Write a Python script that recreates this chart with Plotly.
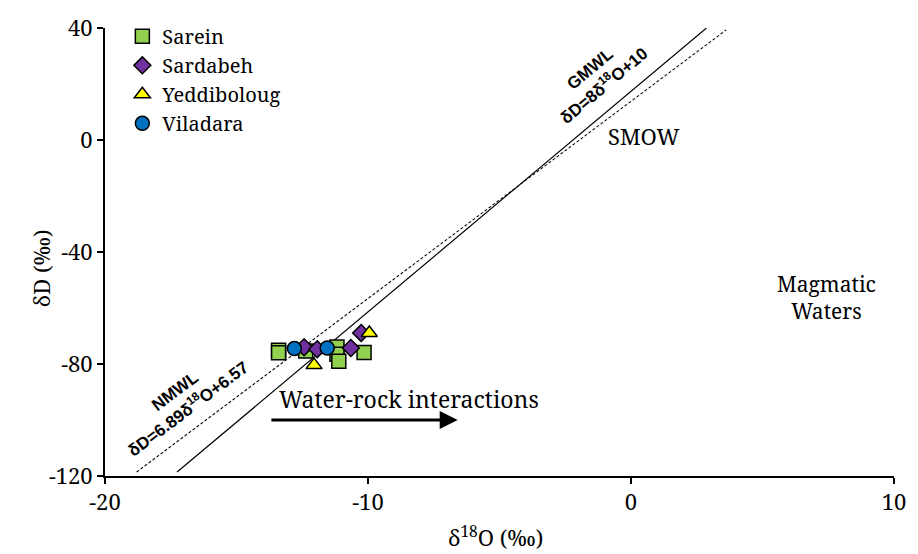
import plotly.graph_objects as go

# ---- data ----
sarein_x = [-13.40, -13.40, -12.37, -11.18, -11.18, -11.11, -10.15]
sarein_y = [-75.1, -76.0, -75.4, -73.9, -76.5, -79.0, -75.9]
sardabeh_x = [-12.43, -11.93, -10.65, -10.26]
sardabeh_y = [-74.0, -74.7, -74.3, -68.9]
yeddi_x = [-12.05, -9.95]
yeddi_y = [-80.4, -68.9]
vila_x = [-12.80, -11.55]
vila_y = [-74.5, -74.3]

gmwl_x = [-17.26, 2.87]
gmwl_y = [-118.6, 40.0]
nmwl_x = [-18.80, 3.62]
nmwl_y = [-118.6, 39.3]

arrow_x = [-13.73, -6.59]
arrow_y = [-100.0, -100.0]

x_ticks = [-20, -10, 0, 10]
x_ticktext = ["-20", "-10", "0", "10"]
y_ticks = [-120, -80, -40, 0, 40]
y_ticktext = ["-120", "-80", "-40", "0", "40"]

SERIF = "Noto Serif, DejaVu Serif"
SANS = "Liberation Sans, Arial, sans-serif"

fig = go.Figure()

fig.add_trace(go.Scatter(x=gmwl_x, y=gmwl_y, mode="lines",
                         line=dict(color="black", width=1.2), showlegend=False, hoverinfo="skip"))
fig.add_trace(go.Scatter(x=nmwl_x, y=nmwl_y, mode="lines",
                         line=dict(color="black", width=1.1, dash="3px,2px"), showlegend=False, hoverinfo="skip"))

mline = dict(color="black", width=1.5)
fig.add_trace(go.Scatter(x=sarein_x, y=sarein_y, mode="markers", name="Sarein",
                         marker=dict(symbol="square", size=14, color="#92D050", line=mline)))
fig.add_trace(go.Scatter(x=sardabeh_x, y=sardabeh_y, mode="markers", name="Sardabeh",
                         marker=dict(symbol="diamond", size=13, color="#7030A0", line=mline)))
fig.add_trace(go.Scatter(x=yeddi_x, y=yeddi_y, mode="markers", name="Yeddiboloug",
                         marker=dict(symbol="triangle-up", size=14, color="#FFFF00", line=mline)))
fig.add_trace(go.Scatter(x=vila_x, y=vila_y, mode="markers", name="Viladara",
                         marker=dict(symbol="circle", size=14, color="#0070C0", line=mline)))

serif_font = dict(family=SERIF, size=22, color="black")
bold_font = dict(family=SANS, size=17, color="black", weight="bold")

axis_common = dict(showgrid=False, zeroline=False, showline=True, linecolor="black", linewidth=2,
                   ticks="outside", ticklen=6, tickwidth=2, tickcolor="black", tickfont=serif_font)

fig.update_xaxes(range=[-20, 10], tickvals=x_ticks, ticktext=x_ticktext, **axis_common)
fig.update_yaxes(range=[-120, 40], tickvals=y_ticks, ticktext=y_ticktext, **axis_common)

annotations = [
    dict(text="\u03b4<sup>18</sup>O (\u2030)", xref="paper", yref="paper", x=0.495, y=-0.135,
         showarrow=False, font=serif_font, xanchor="center", yanchor="middle"),
    dict(text="\u03b4D (\u2030)", xref="paper", yref="paper", x=-0.081, y=0.464, textangle=-90,
         showarrow=False, font=serif_font, xanchor="center", yanchor="middle"),
    dict(text="GMWL<br>\u03b4D=8\u03b4<sup>18</sup>O+10", x=-1.30, y=22.5, textangle=-40,
         showarrow=False, font=bold_font, xanchor="center", yanchor="middle"),
    dict(text="NMWL<br>\u03b4D=6.89\u03b4<sup>18</sup>O+6.57", x=-17.10, y=-93.0, textangle=-37,
         showarrow=False, font=bold_font, xanchor="center", yanchor="middle"),
    dict(text="SMOW", x=0.50, y=1.6, showarrow=False,
         font=serif_font, xanchor="center", yanchor="middle"),
    dict(text="Magmatic<br>Waters", x=7.43, y=-56.2, showarrow=False,
         font=dict(family=SERIF, size=21, color="black"), xanchor="center", yanchor="middle"),
    dict(text="Water-rock interactions", x=-8.45, y=-92.4, showarrow=False,
         font=dict(family=SERIF, size=23, color="black"), xanchor="center", yanchor="middle"),
    dict(text="", x=arrow_x[1], y=arrow_y[1], ax=arrow_x[0], ay=arrow_y[0],
         xref="x", yref="y", axref="x", ayref="y", showarrow=True,
         arrowhead=2, arrowsize=1.2, arrowwidth=3, arrowcolor="black", standoff=0),
]

fig.update_layout(
    width=918, height=554,
    margin=dict(l=105, r=14, t=21, b=78),
    paper_bgcolor="white", plot_bgcolor="white",
    annotations=annotations,
    legend=dict(x=0.022, y=1.025, xanchor="left", yanchor="top",
                font=dict(family=SERIF, size=20, color="black"),
                bgcolor="rgba(0,0,0,0)", itemwidth=30, tracegroupgap=0),
    showlegend=True,
)

fig.write_html("out.html")
